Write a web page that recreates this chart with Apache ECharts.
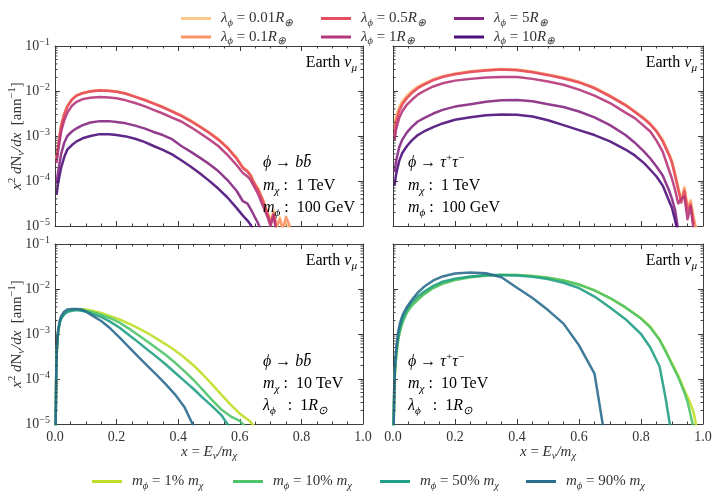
<!DOCTYPE html>
<html><head><meta charset="utf-8">
<script src="https://cdn.jsdelivr.net/npm/echarts@6/dist/echarts.min.js"></script>
<style>html,body{margin:0;padding:0;background:#fff}#c{width:716px;height:497px}</style>
</head><body><div id="c"></div>
<script>
// ---------------- data ----------------
// Top-left: phi -> b bbar, m_chi = 1 TeV, m_phi = 100 GeV
const xTL = [0.005,0.01,0.02,0.03,0.04,0.055,0.07,0.09,0.115,0.145,0.175,0.2,0.23,0.26,0.29,0.32,0.35,0.38,0.41,0.44,0.47,0.5,0.53,0.56,0.59,0.61,0.625,0.635,0.645,0.66,0.675,0.69,0.70,0.71,0.72,0.73,0.74,0.75,0.76,0.77];
const tl_001 = [3.2e-4,6.3e-4,1.78e-3,3.16e-3,4.7e-3,6.6e-3,8.1e-3,9.1e-3,1.0e-2,1.05e-2,1.02e-2,9.8e-3,8.9e-3,7.6e-3,6.5e-3,5.4e-3,4.5e-3,3.6e-3,2.9e-3,2.24e-3,1.66e-3,1.23e-3,8.7e-4,5.6e-4,3.3e-4,2.0e-4,1.7e-4,1.4e-4,1.0e-4,6.8e-5,4.0e-5,2.0e-5,1.41e-5,2.24e-5,8.9e-6,1.58e-5,7.9e-6,1.41e-5,7.9e-6,5e-6];
const tl_01 = [3.0e-4,6.0e-4,1.7e-3,3.1e-3,4.6e-3,6.5e-3,8.0e-3,9.0e-3,9.9e-3,1.04e-2,1.01e-2,9.7e-3,8.8e-3,7.5e-3,6.4e-3,5.3e-3,4.4e-3,3.55e-3,2.85e-3,2.2e-3,1.63e-3,1.2e-3,8.5e-4,5.5e-4,3.2e-4,2.0e-4,1.65e-4,1.35e-4,9.5e-5,6.5e-5,3.8e-5,1.8e-5,1.2e-5,2.0e-5,1.0e-5,1.4e-5,8.5e-6,1.6e-5,1.1e-5,6e-6];
const tl_05 = [2.9e-4,5.8e-4,1.65e-3,3.0e-3,4.5e-3,6.4e-3,7.9e-3,8.9e-3,9.8e-3,1.03e-2,1.0e-2,9.6e-3,8.7e-3,7.4e-3,6.3e-3,5.25e-3,4.35e-3,3.5e-3,2.8e-3,2.15e-3,1.6e-3,1.18e-3,8.3e-4,5.4e-4,3.1e-4,1.95e-4,1.6e-4,1.3e-4,9.2e-5,6.2e-5,3.6e-5,1.9e-5,1.15e-5,1.8e-5,7e-6,null,null,null,null,null];
const tl_1 = [2.5e-4,4.5e-4,1.26e-3,2.24e-3,3.3e-3,4.7e-3,5.75e-3,6.6e-3,7.1e-3,7.4e-3,7.2e-3,6.9e-3,6.2e-3,5.4e-3,4.6e-3,3.8e-3,3.16e-3,2.57e-3,2.1e-3,1.58e-3,1.17e-3,8.5e-4,6.0e-4,3.8e-4,2.24e-4,1.51e-4,1.26e-4,1.05e-4,7.9e-5,5.0e-5,2.8e-5,1.58e-5,1.0e-5,1.78e-5,6.3e-6,null,null,null,null,null];
const tl_5 = [8.9e-5,1.58e-4,4.0e-4,7.1e-4,1.0e-3,1.26e-3,1.48e-3,1.74e-3,2.0e-3,2.14e-3,2.14e-3,2.04e-3,1.91e-3,1.7e-3,1.48e-3,1.23e-3,1.05e-3,8.5e-4,6.0e-4,4.5e-4,3.3e-4,2.4e-4,1.66e-4,1.05e-4,6.0e-5,3.55e-5,3.16e-5,2.4e-5,1.78e-5,1.12e-5,6.3e-6,null,null,null,null,null,null,null,null,null];
const tl_10 = [5.0e-5,8.9e-5,2.0e-4,3.4e-4,5.0e-4,6.3e-4,7.6e-4,8.9e-4,1.0e-3,1.1e-3,1.1e-3,1.05e-3,9.8e-4,8.7e-4,7.4e-4,6.0e-4,4.9e-4,3.9e-4,2.9e-4,2.1e-4,1.48e-4,1.02e-4,6.8e-5,4.3e-5,2.5e-5,1.7e-5,1.32e-5,1.07e-5,7.9e-6,null,null,null,null,null,null,null,null,null,null,null];

// Top-right: phi -> tau tau, m_chi = 1 TeV, m_phi = 100 GeV
const xTR = [0.005,0.01,0.02,0.03,0.045,0.06,0.08,0.1,0.13,0.16,0.2,0.25,0.3,0.35,0.4,0.45,0.5,0.55,0.6,0.65,0.7,0.75,0.78,0.81,0.83,0.85,0.87,0.89,0.9,0.91,0.92,0.93,0.94,0.95,0.96,0.97,0.98];
const tr_001 = [1.78e-3,2.8e-3,4.5e-3,6.0e-3,7.9e-3,1.0e-2,1.26e-2,1.48e-2,1.82e-2,2.14e-2,2.45e-2,2.75e-2,2.95e-2,3.1e-2,3.0e-2,2.7e-2,2.34e-2,2.0e-2,1.62e-2,1.2e-2,7.9e-3,5.0e-3,3.55e-3,2.5e-3,1.9e-3,1.32e-3,8.3e-4,4.2e-4,2.8e-4,1.48e-4,7.4e-5,3.8e-5,7.4e-5,2.8e-5,3.8e-5,1.58e-5,7.9e-6];
const tr_01 = [1.41e-3,2.4e-3,4.0e-3,5.5e-3,7.4e-3,9.3e-3,1.2e-2,1.41e-2,1.78e-2,2.1e-2,2.4e-2,2.7e-2,2.9e-2,3.05e-2,2.95e-2,2.65e-2,2.3e-2,1.95e-2,1.58e-2,1.17e-2,7.8e-3,4.9e-3,3.5e-3,2.45e-3,1.85e-3,1.3e-3,8.0e-4,4.0e-4,2.7e-4,1.4e-4,7.0e-5,3.5e-5,6.8e-5,2.6e-5,3.5e-5,1.4e-5,7e-6];
const tr_05 = [1.0e-3,2.0e-3,3.55e-3,5.0e-3,6.9e-3,8.9e-3,1.15e-2,1.38e-2,1.74e-2,2.04e-2,2.35e-2,2.65e-2,2.85e-2,3.0e-2,2.9e-2,2.6e-2,2.25e-2,1.9e-2,1.55e-2,1.15e-2,7.6e-3,4.8e-3,3.4e-3,2.4e-3,1.8e-3,1.25e-3,7.6e-4,3.8e-4,2.5e-4,1.3e-4,6.5e-5,3.3e-5,6.0e-5,2.2e-5,3.0e-5,1.1e-5,null];
const tr_1 = [7.9e-4,1.41e-3,2.5e-3,3.55e-3,5.0e-3,6.3e-3,8.3e-3,1.0e-2,1.26e-2,1.48e-2,1.7e-2,1.86e-2,2.0e-2,2.04e-2,2.04e-2,1.86e-2,1.62e-2,1.38e-2,1.07e-2,7.9e-3,5.4e-3,3.3e-3,2.5e-3,1.66e-3,1.26e-3,7.9e-4,4.5e-4,1.78e-4,1.12e-4,6.3e-5,3.16e-5,4.0e-5,4.5e-5,1.41e-5,2.7e-5,7.9e-6,null];
const tr_5 = [1.58e-4,2.8e-4,5.6e-4,8.3e-4,1.2e-3,1.58e-3,2.1e-3,2.5e-3,3.16e-3,3.8e-3,4.5e-3,5.1e-3,5.75e-3,6.2e-3,6.3e-3,5.9e-3,5.1e-3,4.4e-3,3.5e-3,2.6e-3,1.74e-3,1.05e-3,7.1e-4,4.5e-4,3.16e-4,2.1e-4,1.32e-4,6.3e-5,4.0e-5,2.3e-5,7.9e-6,null,null,null,null,null,null];
const tr_10 = [7.9e-5,1.41e-4,2.8e-4,4.2e-4,6.0e-4,7.9e-4,1.05e-3,1.26e-3,1.58e-3,1.9e-3,2.3e-3,2.6e-3,2.9e-3,3.0e-3,2.95e-3,2.7e-3,2.24e-3,1.74e-3,1.35e-3,1.05e-3,7.6e-4,5.0e-4,3.7e-4,2.5e-4,1.78e-4,1.26e-4,7.9e-5,3.7e-5,2.5e-5,1.35e-5,6.3e-6,null,null,null,null,null,null];

// Bottom-left: phi -> b bbar, m_chi = 10 TeV, lambda_phi = 1 R_sun
const xBL = [0.002,0.004,0.006,0.01,0.015,0.02,0.03,0.04,0.055,0.07,0.085,0.1,0.12,0.15,0.18,0.21,0.24,0.27,0.3,0.33,0.36,0.39,0.42,0.45,0.48,0.51,0.54,0.57,0.6,0.63,0.66];
const bl_1 = [7.9e-6,1.26e-4,4.5e-4,1.12e-3,1.78e-3,2.3e-3,2.9e-3,3.2e-3,3.5e-3,3.55e-3,3.55e-3,3.5e-3,3.3e-3,2.95e-3,2.5e-3,2.1e-3,1.7e-3,1.35e-3,1.05e-3,7.9e-4,5.9e-4,4.3e-4,3.0e-4,2.0e-4,1.26e-4,7.6e-5,4.5e-5,2.7e-5,1.7e-5,1.2e-5,7.1e-6];
const bl_10 = [7.9e-6,1.26e-4,4.5e-4,1.12e-3,1.78e-3,2.24e-3,2.8e-3,3.16e-3,3.4e-3,3.5e-3,3.5e-3,3.3e-3,3.1e-3,2.7e-3,2.24e-3,1.78e-3,1.32e-3,9.5e-4,6.8e-4,4.8e-4,3.4e-4,2.3e-4,1.5e-4,9.5e-5,5.75e-5,3.4e-5,2.1e-5,1.48e-5,1.17e-5,7.1e-6,null];
const bl_50 = [7.9e-6,1.26e-4,4.2e-4,1.07e-3,1.7e-3,2.2e-3,2.75e-3,3.1e-3,3.3e-3,3.4e-3,3.3e-3,3.16e-3,2.8e-3,2.4e-3,1.86e-3,1.38e-3,9.5e-4,6.6e-4,4.5e-4,3.1e-4,2.1e-4,1.38e-4,9.1e-5,6.0e-5,3.8e-5,2.5e-5,1.58e-5,7.9e-6,null,null,null];
const bl_90 = [7.9e-6,1.41e-4,5.0e-4,1.2e-3,1.9e-3,2.5e-3,3.16e-3,3.5e-3,3.6e-3,3.6e-3,3.5e-3,3.16e-3,2.6e-3,1.95e-3,1.32e-3,8.3e-4,5.1e-4,3.16e-4,1.95e-4,1.23e-4,7.6e-5,4.5e-5,2.4e-5,8.9e-6,null,null,null,null,null,null,null];

// Bottom-right: phi -> tau tau, m_chi = 10 TeV, lambda_phi = 1 R_sun
const xBR = [0.002,0.004,0.007,0.011,0.016,0.022,0.032,0.045,0.06,0.08,0.1,0.13,0.16,0.2,0.25,0.3,0.35,0.4,0.45,0.5,0.55,0.6,0.65,0.7,0.75,0.8,0.83,0.86,0.88,0.9,0.92,0.94,0.95,0.96,0.97,0.98];
const br_1 = [7.9e-6,5.0e-5,1.78e-4,3.7e-4,7.1e-4,1.17e-3,2.0e-3,3.16e-3,4.4e-3,6.0e-3,7.9e-3,1.1e-2,1.35e-2,1.62e-2,1.86e-2,2.0e-2,2.04e-2,2.04e-2,1.95e-2,1.78e-2,1.55e-2,1.26e-2,9.3e-3,6.3e-3,3.9e-3,2.24e-3,1.45e-3,7.6e-4,4.2e-4,2.24e-4,1.2e-4,5.6e-5,4.0e-5,2.8e-5,1.78e-5,7.9e-6];
const br_10 = [7.9e-6,4.8e-5,1.7e-4,3.5e-4,6.8e-4,1.12e-3,1.9e-3,3.0e-3,4.2e-3,5.75e-3,7.6e-3,1.05e-2,1.3e-2,1.58e-2,1.82e-2,1.98e-2,2.04e-2,2.04e-2,1.95e-2,1.78e-2,1.55e-2,1.26e-2,9.3e-3,6.3e-3,3.9e-3,2.2e-3,1.4e-3,7.4e-4,4.0e-4,2.1e-4,1.1e-4,5.0e-5,3.16e-5,1.58e-5,7.9e-6,null];
const br_50 = [7.9e-6,6.3e-5,2.1e-4,4.3e-4,8.3e-4,1.35e-3,2.3e-3,3.55e-3,5.0e-3,6.8e-3,8.7e-3,1.17e-2,1.45e-2,1.7e-2,1.9e-2,2.04e-2,2.04e-2,2.0e-2,1.86e-2,1.66e-2,1.38e-2,1.05e-2,6.8e-3,3.9e-3,2.14e-3,1.0e-3,5.0e-4,1.9e-4,3.55e-5,5.0e-6,null,null,null,null,null,null];
const br_90 = [7.9e-6,7.1e-5,2.5e-4,5.2e-4,1.05e-3,1.7e-3,2.75e-3,4.0e-3,5.6e-3,8.3e-3,1.12e-2,1.55e-2,1.9e-2,2.2e-2,2.34e-2,2.24e-2,1.82e-2,1.07e-2,6.3e-3,3.4e-3,1.7e-3,5.6e-4,1.32e-4,1.0e-6,null,null,null,null,null,null,null,null,null,null,null,null];

// axis minor tick values on the log axes
const yMinorTicks = [2e-5,3e-5,4e-5,5e-5,6e-5,7e-5,8e-5,9e-5,2e-4,3e-4,4e-4,5e-4,6e-4,7e-4,8e-4,9e-4,2e-3,3e-3,4e-3,5e-3,6e-3,7e-3,8e-3,9e-3,2e-2,3e-2,4e-2,5e-2,6e-2,7e-2,8e-2,9e-2];

// ---------------- styling ----------------
const FONT = 'Liberation Serif';
const TXT = '#333333';
const AX = '#3c3c3c';
function mkRich(fs) {
  return {
    n: {fontFamily: FONT, fontSize: fs, color: TXT, lineHeight: fs + 5},
    i: {fontFamily: FONT, fontSize: fs, fontStyle: 'italic', color: TXT, lineHeight: fs + 5},
    u: {fontFamily: FONT, fontSize: fs * 0.7, fontStyle: 'italic', color: TXT, lineHeight: 12, verticalAlign: 'bottom'},
    p: {fontFamily: FONT, fontSize: fs * 0.7, color: TXT, lineHeight: 12, verticalAlign: 'top'}
  };
}
const rich = mkRich(15);
const richA = mkRich(16);
const C = {
  l001: '#fdc98b', l01: '#f8946a', l05: '#e54f5f', l1: '#b5367a', l5: '#852781', l10: '#4e117b',
  m1: '#bddf26', m10: '#4fc46a', m50: '#22a085', m90: '#2b6e8e'
};
const legendText = {
  l001: '{i|λ}{u|ϕ}{n| = 0.01}{i|R}{u|⊕}',
  l01: '{i|λ}{u|ϕ}{n| = 0.1}{i|R}{u|⊕}',
  l05: '{i|λ}{u|ϕ}{n| = 0.5}{i|R}{u|⊕}',
  l1: '{i|λ}{u|ϕ}{n| = 1}{i|R}{u|⊕}',
  l5: '{i|λ}{u|ϕ}{n| = 5}{i|R}{u|⊕}',
  l10: '{i|λ}{u|ϕ}{n| = 10}{i|R}{u|⊕}',
  m1: '{i|m}{u|ϕ}{n| = 1% }{i|m}{u|χ}',
  m10: '{i|m}{u|ϕ}{n| = 10% }{i|m}{u|χ}',
  m50: '{i|m}{u|ϕ}{n| = 50% }{i|m}{u|χ}',
  m90: '{i|m}{u|ϕ}{n| = 90% }{i|m}{u|χ}'
};

const grids = [
  {left: 55, top: 46, width: 308, height: 180},
  {left: 393, top: 46, width: 310, height: 180},
  {left: 55, top: 244, width: 308, height: 180},
  {left: 393, top: 244, width: 310, height: 180}
].map(g => Object.assign({outerBoundsMode: 'none', containLabel: false}, g));

const xName = '{i|x}{n| = }{i|E}{u|ν}{i|/m}{u|χ}';
const yName = '{i|x}{p|2}{i| d}{n|N}{u|ν}{i|/dx}{n|  [ann}{p|−1}{n|]}';

function xAx(g, pos, showLabel, name) {
  return {
    type: 'value', gridIndex: g, position: pos, min: 0, max: 1, interval: 0.2,
    axisLine: {show: true, onZero: false, lineStyle: {color: AX, width: 1}},
    axisTick: {show: true, inside: true, length: 5, lineStyle: {color: AX}},
    minorTick: {show: true, splitNumber: 4, length: 2.5, lineStyle: {color: AX}},
    splitLine: {show: false}, minorSplitLine: {show: false},
    axisLabel: {show: showLabel, margin: 6, color: TXT, fontFamily: FONT, fontSize: 14,
      formatter: v => v.toFixed(1), showMinLabel: true, showMaxLabel: true},
    name: name || '', nameLocation: 'middle', nameGap: 18, nameMoveOverlap: false,
    nameTextStyle: {rich: rich}
  };
}
function yAx(g, pos, showLabel, name) {
  return {
    type: 'log', logBase: 10, gridIndex: g, position: pos, min: 1e-5, max: 1e-1,
    axisLine: {show: true, onZero: false, lineStyle: {color: AX, width: 1}},
    axisTick: {show: true, inside: true, length: 5, lineStyle: {color: AX}},
    splitLine: {show: false},
    axisLabel: {show: showLabel, margin: 5,
      formatter: v => '{b|10}{s|−' + Math.round(-Math.log10(v)) + '}',
      rich: {
        b: {fontFamily: FONT, fontSize: 14, color: TXT, lineHeight: 18},
        s: {fontFamily: FONT, fontSize: 10, color: TXT, lineHeight: 11, verticalAlign: 'top'}
      }},
    name: name || '', nameLocation: 'middle', nameGap: 28, nameRotate: 90, nameMoveOverlap: false,
    nameTextStyle: {rich: rich}
  };
}

const xAxes = [], yAxes = [];
for (let g = 0; g < 4; g++) {
  const bottomRow = g >= 2, leftCol = g % 2 === 0;
  xAxes.push(xAx(g, 'bottom', bottomRow, bottomRow ? xName : ''));
  xAxes.push(xAx(g, 'top', false, ''));
  yAxes.push(yAx(g, 'left', leftCol, leftCol ? yName : ''));
  yAxes.push(yAx(g, 'right', false, ''));
}

function line(name, xs, ys, g) {
  const data = [];
  xs.forEach((x, i) => { if (ys[i] !== null) data.push([x, ys[i]]); });
  return {
    type: 'line', name: name, xAxisIndex: 2 * g, yAxisIndex: 2 * g, data: data,
    symbol: 'none', showSymbol: false, color: C[name], clip: true, z: 3,
    lineStyle: {width: 2.5, color: C[name], opacity: 0.9, join: 'round'},
    emphasis: {disabled: true}
  };
}
function minorTicks(g) {
  return {
    type: 'custom', xAxisIndex: 2 * g, yAxisIndex: 2 * g, silent: true, clip: false, z: 4,
    data: yMinorTicks.map(v => [0, v]), encode: {x: 0, y: 1},
    renderItem: (params, api) => {
      const v = api.value(1);
      const a = api.coord([0, v]), b = api.coord([1, v]);
      return {type: 'group', children: [
        {type: 'line', shape: {x1: a[0], y1: a[1], x2: a[0] + 2.5, y2: a[1]}, style: {stroke: AX, lineWidth: 1}},
        {type: 'line', shape: {x1: b[0], y1: b[1], x2: b[0] - 2.5, y2: b[1]}, style: {stroke: AX, lineWidth: 1}}
      ]};
    }
  };
}

const series = [
  line('l001', xTL, tl_001, 0), line('l01', xTL, tl_01, 0), line('l05', xTL, tl_05, 0),
  line('l1', xTL, tl_1, 0), line('l5', xTL, tl_5, 0), line('l10', xTL, tl_10, 0),
  line('l001', xTR, tr_001, 1), line('l01', xTR, tr_01, 1), line('l05', xTR, tr_05, 1),
  line('l1', xTR, tr_1, 1), line('l5', xTR, tr_5, 1), line('l10', xTR, tr_10, 1),
  line('m1', xBL, bl_1, 2), line('m10', xBL, bl_10, 2), line('m50', xBL, bl_50, 2), line('m90', xBL, bl_90, 2),
  line('m1', xBR, br_1, 3), line('m10', xBR, br_10, 3), line('m50', xBR, br_50, 3), line('m90', xBR, br_90, 3),
  minorTicks(0), minorTicks(1), minorTicks(2), minorTicks(3)
];

function legend(names, left, top) {
  return {
    data: names, left: left, top: top, orient: 'vertical', icon: 'rect',
    itemWidth: 30, itemHeight: 3, itemGap: 1, selectedMode: false,
    formatter: n => legendText[n],
    textStyle: {rich: rich, padding: [0, 0, 0, 5]}
  };
}

function txt(x, y, s, align) {
  return {type: 'text', x: x, y: y, z: 10, silent: true,
    style: {text: s, rich: richA, align: align || 'left', verticalAlign: 'middle'}};
}
const earth = '{n|Earth }{i|ν}{u|μ}';
const graphics = [
  txt(357, 63, earth, 'right'), txt(697, 63, earth, 'right'),
  txt(357, 261, earth, 'right'), txt(697, 261, earth, 'right'),
  txt(263, 163, '{i|ϕ}{n| → }{i|bb̄}'),
  txt(263, 186, '{i|m}{u|χ}{n| :  1 TeV}'),
  txt(263, 208, '{i|m}{u|ϕ}{n| :  100 GeV}'),
  txt(408, 163, '{i|ϕ}{n| → }{i|τ}{p|+}{i|τ}{p|−}'),
  txt(408, 186, '{i|m}{u|χ}{n| :  1 TeV}'),
  txt(408, 208, '{i|m}{u|ϕ}{n| :  100 GeV}'),
  txt(263, 362, '{i|ϕ}{n| → }{i|bb̄}'),
  txt(263, 384, '{i|m}{u|χ}{n| :  10 TeV}'),
  txt(263, 406, '{i|λ}{u|ϕ}{n|   :  1}{i|R}{u|⊙}'),
  txt(408, 362, '{i|ϕ}{n| → }{i|τ}{p|+}{i|τ}{p|−}'),
  txt(408, 384, '{i|m}{u|χ}{n| :  10 TeV}'),
  txt(408, 406, '{i|λ}{u|ϕ}{n|   :  1}{i|R}{u|⊙}')
];

const chart = echarts.init(document.getElementById('c'), null, {renderer: 'canvas'});
chart.setOption({
  backgroundColor: '#ffffff',
  animation: false,
  grid: grids,
  xAxis: xAxes,
  yAxis: yAxes,
  legend: [
    legend(['l001', 'l01'], 176, 6),
    legend(['l05', 'l1'], 316, 6),
    legend(['l5', 'l10'], 449, 6),
    legend(['m1'], 87, 469), legend(['m10'], 228, 469),
    legend(['m50'], 375, 469), legend(['m90'], 521, 469)
  ],
  series: series,
  graphic: graphics
});
</script>
</body></html>
